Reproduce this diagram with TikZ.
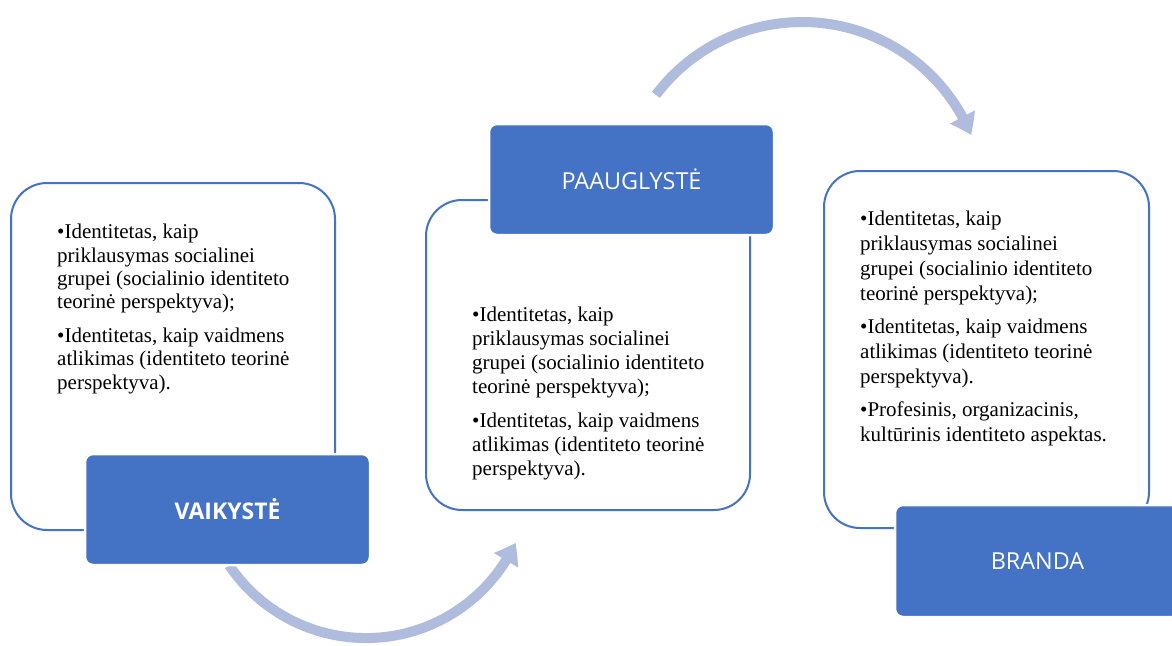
\documentclass[tikz,border=0pt]{standalone}
\usepackage{fontspec}
\setmainfont{Liberation Serif}
\newfontfamily\labelfont{Open Sans}
\usetikzlibrary{arrows.meta,bending}
\definecolor{accent}{HTML}{4472C4}
\definecolor{arrowc}{RGB}{176,188,222}
\begin{document}
\begin{tikzpicture}[x=1pt,y=-1pt,
  panel/.style={draw=accent, line width=2pt, fill=white, rounded corners=36pt,
    rectangle, inner sep=0pt, outer sep=0pt},
  header/.style={fill=accent, draw=white, line width=2.5pt, rounded corners=8pt,
    rectangle, inner sep=0pt, outer sep=0pt, minimum width=285pt, minimum height=111pt,
    text=white, font=\labelfont\fontsize{23.4}{28}\selectfont},
  body/.style={anchor=north west, inner sep=0pt, align=left},
  flow/.style={draw=arrowc, line width=10pt, -{Triangle[width=27pt,length=20pt,bend]}}]
\clip (0,0) rectangle (1172,645);
\fill[white] (0,0) rectangle (1172,645);
% curved arrows
\coordinate (a1s) at (229.2,565.3);
\coordinate (a2s) at (655.9,94.9);
\draw[flow] (a1s) arc[start angle=146, end angle=25, radius=165];
\draw[flow] (a2s) arc[start angle=-143, end angle=-22.5, radius=183];
% panels
\node[panel, minimum width=324pt, minimum height=347pt] (p1) at (173,356.5) {};
\node[panel, minimum width=324pt, minimum height=310pt] (p2) at (588,355) {};
\node[panel, minimum width=325pt, minimum height=357pt] (p3) at (986.5,349.5) {};
% body texts
\node[body, font=\fontsize{21}{23.4}\selectfont] (t1) at (57,224) {%
•Identitetas, kaip\\
priklausymas socialinei\\
grupei (socialinio identiteto\\
teorinė perspektyva);\\[10pt]
•Identitetas, kaip vaidmens\\
atlikimas (identiteto teorinė\\
perspektyva).};
\node[body, font=\fontsize{21}{24}\selectfont] (t2) at (472,307) {%
•Identitetas, kaip\\
priklausymas socialinei\\
grupei (socialinio identiteto\\
teorinė perspektyva);\\[10pt]
•Identitetas, kaip vaidmens\\
atlikimas (identiteto teorinė\\
perspektyva).};
\node[body, font=\fontsize{21}{24.8}\selectfont] (t3) at (860,211) {%
•Identitetas, kaip\\
priklausymas socialinei\\
grupei (socialinio identiteto\\
teorinė perspektyva);\\[9pt]
•Identitetas, kaip vaidmens\\
atlikimas (identiteto teorinė\\
perspektyva).\\[8pt]
•Profesinis, organizacinis,\\
kultūrinis identiteto aspektas.};
% headers
\node[header, font=\labelfont\bfseries\fontsize{23}{28}\selectfont] (h1) at (227.5,509.5) {VAIKYSTĖ};
\node[header] (h2) at (631.5,179.5) {PAAUGLYSTĖ};
\node[header, minimum height=112pt] (h3) at (1037.5,561) {BRANDA};
\end{tikzpicture}
\end{document}
